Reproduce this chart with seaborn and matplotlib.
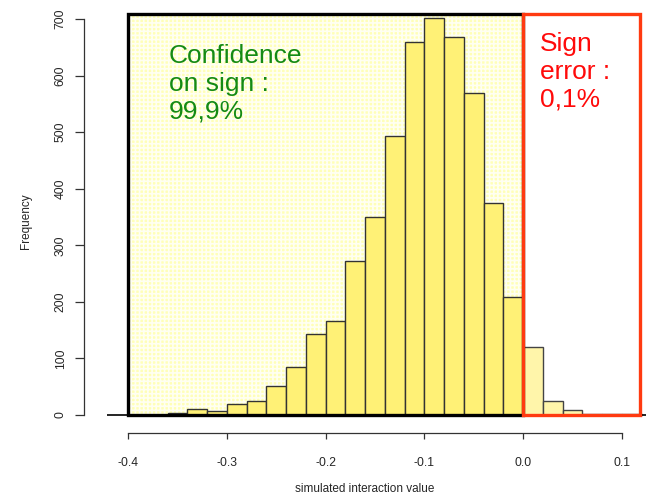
import numpy as np
import pandas as pd
import matplotlib
matplotlib.use("Agg")
import matplotlib.pyplot as plt
from matplotlib.patches import Rectangle
import seaborn as sns

# Histogram of simulated interaction values (bins of width 0.02)
bin_left = [-0.36, -0.34, -0.32, -0.30, -0.28, -0.26, -0.24, -0.22, -0.20,
            -0.18, -0.16, -0.14, -0.12, -0.10, -0.08, -0.06, -0.04, -0.02,
            0.00, 0.02, 0.04, 0.06, 0.08, 0.10]
counts = [3, 10, 7, 19, 25, 51, 84, 143, 167,
          272, 350, 493, 659, 701, 669, 569, 375, 209,
          120, 24, 8, 2, 1, 1]
bin_width = 0.02
x_ticks = [-0.4, -0.3, -0.2, -0.1, 0.0, 0.1]
x_tick_labels = ["-0.4", "-0.3", "-0.2", "-0.1", "0.0", "0.1"]
y_ticks = [0, 100, 200, 300, 400, 500, 600, 700]
threshold = 0.0
conf_text = "Confidence\non sign :\n99,9%"
err_text = "Sign\nerror :\n0,1%"

sns.set_style("white")
plt.rcParams["font.family"] = ["Liberation Sans", "DejaVu Sans"]
plt.rcParams["hatch.linewidth"] = 1.2

df = pd.DataFrame({"left": bin_left, "count": counts})
df["center"] = df["left"] + bin_width / 2
neg = df[df["left"] < threshold].reset_index(drop=True)
pos = df[df["left"] >= threshold].reset_index(drop=True)
neg_edges = [round(v, 4) for v in list(neg["left"]) + [threshold]]
pos_edges = [round(v, 4) for v in list(pos["left"]) + [pos["left"].iloc[-1] + bin_width]]

fig = plt.figure(figsize=(6.5, 4.94), dpi=100)
W, H = 650, 494
ax = fig.add_axes([84 / W, (H - 433) / H, 562 / W, 423 / H])
px_per_x = 988.0
px_per_y = 0.5657
ax.set_xlim(-0.4 - 44 / px_per_x, -0.4 + (562 - 44) / px_per_x)
ax.set_ylim(-18 / px_per_y, 405 / px_per_y)

box_top = 709
# Shaded region of negative values (textured light yellow)
ax.add_patch(Rectangle((x_ticks[0], 0), threshold - x_ticks[0], box_top,
                       facecolor="#FFFFB8", edgecolor="none", zorder=0))
ax.add_patch(Rectangle((x_ticks[0], 0), threshold - x_ticks[0], box_top,
                       facecolor="none", edgecolor="#FFFFF2", linewidth=0,
                       hatch="++++", zorder=0.5))

sns.histplot(data=neg, x="center", weights="count", bins=neg_edges,
             color="#FFF176", alpha=1, edgecolor="#333333", linewidth=1.0,
             ax=ax, zorder=2)
sns.histplot(data=pos, x="center", weights="count", bins=pos_edges,
             color="#FFF5AA", alpha=1, edgecolor="#444444", linewidth=1.0,
             ax=ax, zorder=2)

# Baseline
ax.hlines(0, -0.4 - 21 / px_per_x, ax.get_xlim()[1], color="black", linewidth=1.2, zorder=3)

# Region frames
ax.add_patch(Rectangle((x_ticks[0], 0), threshold - x_ticks[0], box_top,
                       facecolor="none", edgecolor="black", linewidth=2.4, zorder=4,
                       clip_on=False))
ax.add_patch(Rectangle((threshold, 0), 0.1185 - threshold, box_top,
                       facecolor="none", edgecolor="#FF3A10", linewidth=2.4, zorder=5,
                       clip_on=False))

ax.text(-0.4 + 41 / px_per_x, (415 - 44) / px_per_y, conf_text, color="#148A14",
        fontsize=19, va="top", ha="left", linespacing=1.2, zorder=6)
ax.text(threshold + 17 / px_per_x, (415 - 32) / px_per_y, err_text, color="#FF0A0A",
        fontsize=19, va="top", ha="left", linespacing=1.2, zorder=6)

# R-style axes
for side in ("top", "right"):
    ax.spines[side].set_visible(False)
for side in ("left", "bottom"):
    ax.spines[side].set_linewidth(0.9)
    ax.spines[side].set_color("#333333")
ax.spines["bottom"].set_bounds(x_ticks[0], x_ticks[-1])
ax.spines["left"].set_bounds(y_ticks[0], y_ticks[-1])
ax.set_xticks(x_ticks)
ax.set_xticklabels(x_tick_labels)
ax.set_yticks(y_ticks)
ax.set_yticklabels([str(v) for v in y_ticks], rotation=90, va="center")
ax.tick_params(axis="both", direction="out", width=0.9, color="#333333",
               labelsize=8.7, bottom=True, left=True)
ax.tick_params(axis="x", length=4.5, pad=13)
ax.tick_params(axis="y", length=6.5, pad=6)
ax.set_xlabel("simulated interaction value", fontsize=8.5, labelpad=10)
ax.set_ylabel("Frequency", fontsize=8.5, labelpad=16)
ax.grid(False)

fig.savefig("out.png", dpi=100)
